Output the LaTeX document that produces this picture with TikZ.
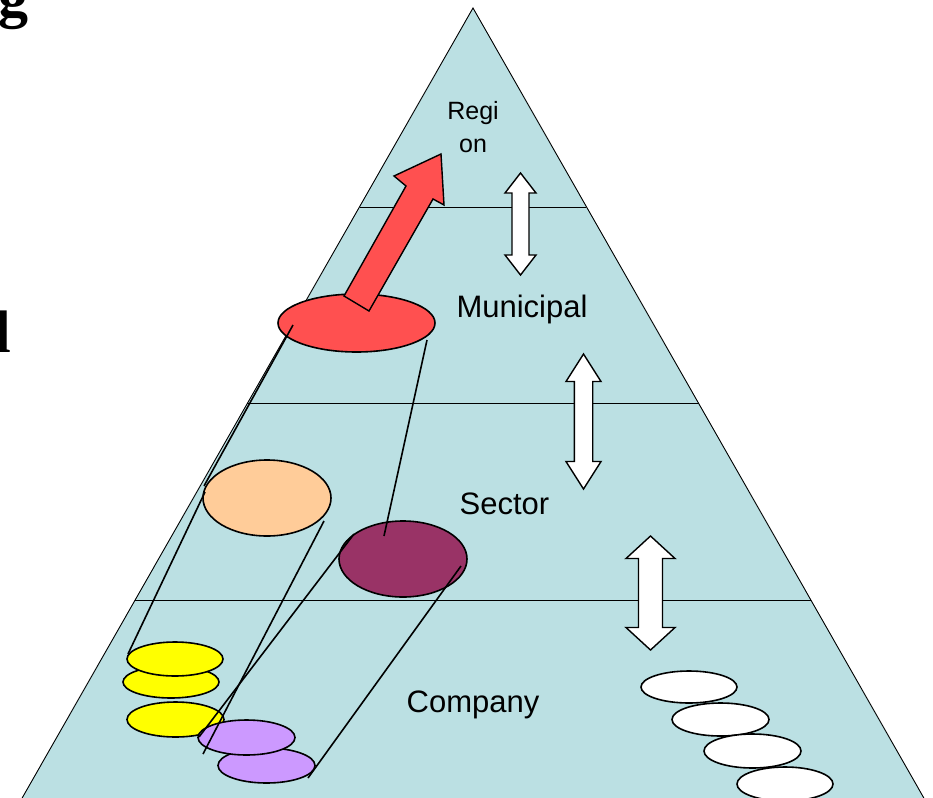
\documentclass[tikz,border=0pt]{standalone}
\usepackage{fontspec}
\setmainfont{Liberation Sans}
\newfontfamily\tnrfont{Liberation Serif}
\usetikzlibrary{shapes.geometric}
\definecolor{pyr}{HTML}{BBE0E3}
\definecolor{redc}{HTML}{FF5050}
\definecolor{peach}{HTML}{FFCC99}
\definecolor{maroon}{HTML}{993366}
\definecolor{lilac}{HTML}{CC99FF}
\definecolor{yel}{HTML}{FFFF00}
\newcommand\mydblarrow[6]{% cx, ytop, ybot, headlen, headhalf, shafthalf
  \draw[blockarrow] (#1,#2) -- (#1+#5,#2+#4) -- (#1+#6,#2+#4) -- (#1+#6,#3-#4)
    -- (#1+#5,#3-#4) -- (#1,#3) -- (#1-#5,#3-#4) -- (#1-#6,#3-#4)
    -- (#1-#6,#2+#4) -- (#1-#5,#2+#4) -- cycle;}
\begin{document}
\begin{tikzpicture}[x=1pt,y=-1pt,
  disc/.style={ellipse, draw=black, line width=1.6pt, inner sep=0pt, outer sep=0pt},
  tie/.style={draw=black, line width=1.6pt},
  sep/.style={draw=black, line width=0.9pt},
  blockarrow/.style={draw=black, line width=1.4pt, fill=white, line join=miter},
  lvl/.style={font=\fontsize{31}{37}\selectfont, inner sep=0pt, anchor=base},
  big/.style={font=\tnrfont\bfseries\fontsize{60}{70}\selectfont, inner sep=0pt, anchor=base east}]
\useasboundingbox (0,0) rectangle (933,797);
\clip (0,0) rectangle (933,797);
\fill[white] (0,0) rectangle (933,797);

% pyramid
\coordinate (apex) at (473,8);
\coordinate (bl) at (21,800);
\coordinate (br) at (925,800);
\filldraw[fill=pyr, draw=black, line width=0.9pt] (apex) -- (bl) -- (br) -- cycle;
\coordinate (s1l) at (360,207); \coordinate (s1r) at (586,207);
\coordinate (s2l) at (247,403); \coordinate (s2r) at (699,403);
\coordinate (s3l) at (135,600); \coordinate (s3r) at (811,600);
\draw[sep] (s1l) -- (s1r);
\draw[sep] (s2l) -- (s2r);
\draw[sep] (s3l) -- (s3r);

% left cut-off title letters
\node[big] (tg) at (29,17) {g};
\node[big] (td) at (11,352) {d};

% level labels
\node[font=\fontsize{25}{33}\selectfont, inner sep=0pt, align=center, anchor=north] (region) at (473,101) {Regi\\on};
\node[lvl] (municipal) at (522,317) {Municipal};
\node[lvl] (sector) at (504.5,514) {Sector};
\node[lvl] (company) at (473,712) {Company};

% double arrows
\mydblarrow{520.5}{173}{275}{20}{15.5}{8.5}
\mydblarrow{583.5}{354}{489}{27.5}{17.5}{9.2}
\mydblarrow{650.5}{536}{650}{22.5}{24.5}{12}

% ellipses
\node[disc, fill=redc, minimum width=157, minimum height=58] (red) at (356.5,323) {};
\node[disc, fill=peach, minimum width=128, minimum height=76] (peachE) at (267,498) {};
\node[disc, fill=maroon, minimum width=128, minimum height=76] (maroonE) at (403,559) {};
\node[disc, fill=yel, minimum width=96, minimum height=32] (y2) at (171,682) {};
\node[disc, fill=yel, minimum width=96, minimum height=34] (y1) at (175,659) {};
\node[disc, fill=yel, minimum width=97, minimum height=35] (y3) at (175.5,719.5) {};
\node[disc, fill=lilac, minimum width=97, minimum height=35] (p2) at (266.5,765.5) {};
\node[disc, fill=lilac, minimum width=97, minimum height=35] (p1) at (246.5,737.5) {};
\node[disc, fill=white, minimum width=96, minimum height=32] (w1) at (689,687) {};
\node[disc, fill=white, minimum width=97, minimum height=33] (w2) at (720.5,719.5) {};
\node[disc, fill=white, minimum width=97, minimum height=34] (w3) at (752.5,751) {};
\node[disc, fill=white, minimum width=96, minimum height=34] (w4) at (785,784) {};

% red arrow
\filldraw[fill=redc, draw=black, line width=1.4pt, line join=miter]
  (344,296) -- (406,186) -- (394,176) -- (441,154) -- (444,205) -- (433,199) -- (369,311) -- cycle;

% connector lines
\coordinate (l1a) at (293,325); \coordinate (l1b) at (204,486);
\coordinate (lda) at (205,492); \coordinate (ldb) at (128,654);
\coordinate (l2a) at (427,340); \coordinate (l2b) at (384,536);
\coordinate (laa) at (324,521); \coordinate (lab) at (203,754);
\coordinate (lba) at (354,534); \coordinate (lbb) at (199,737);
\coordinate (lca) at (461,566); \coordinate (lcb) at (308,778);
\draw[tie] (l1a) -- (l1b);
\draw[tie] (lda) -- (ldb);
\draw[tie] (l2a) -- (l2b);
\draw[tie] (laa) -- (lab);
\draw[tie] (lba) -- (lbb);
\draw[tie] (lca) -- (lcb);
\end{tikzpicture}
\end{document}
